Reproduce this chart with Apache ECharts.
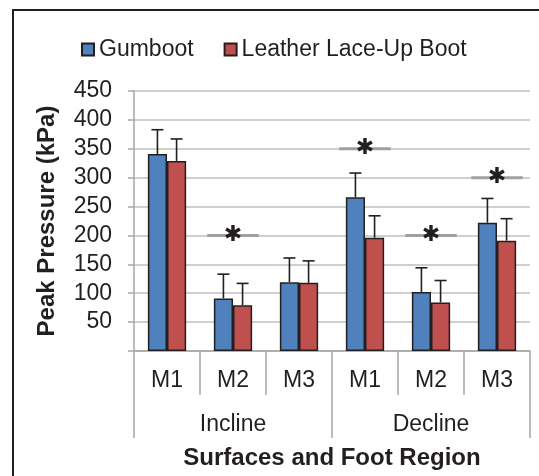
<!DOCTYPE html>
<html>
<head>
<meta charset="utf-8">
<script src="https://cdn.jsdelivr.net/npm/echarts@6/dist/echarts.min.js"></script>
<style>
  html, body { margin: 0; padding: 0; background: #fff; }
  #chart { width: 539px; height: 476px; }
</style>
</head>
<body>
<div id="chart"></div>
<script>
// foot regions per surface, and the surfaces
const regions = ['M1', 'M2', 'M3', 'M1', 'M2', 'M3']
const surfaces = ['Incline', 'Decline']

// peak pressure (kPa) and SD
const gumboot = [341, 91, 119, 266, 102, 222]
const gumbootErr = [42, 42, 42, 42, 42, 42]
const leather = [329, 79, 118, 196, 84, 191]
const leatherErr = [38, 38, 38, 38, 38, 38]

// significant differences: category index and level of the marker line
const sigIndex = [1, 3, 4, 5]
const sigLevel = [200, 350, 200, 300]

const yTicks = { min: 0, max: 450, interval: 50 }

const FONT = 'Liberation Sans'
const INK = '#231f20'
const AXIS_GRAY = '#a6a6a6'
const CAT_GAP = 0.42

const chart = echarts.init(document.getElementById('chart'))

// error bar (upper only) for series s (0 = left bar, 1 = right bar)
const errRender = (s) => (params, api) => {
  const cat = api.value(0)
  const val = api.value(1)
  const err = api.value(2)
  const band = api.size([1, 0])[0]
  const bw = band * (1 - CAT_GAP) / 2
  const cx = api.coord([cat, 0])[0] + (s - 0.5) * bw
  const yBase = api.coord([cat, val])[1]
  const yTop = api.coord([cat, val + err])[1]
  const st = { stroke: INK, lineWidth: 1.6 }
  return {
    type: 'group',
    children: [
      { type: 'line', shape: { x1: cx, y1: yBase, x2: cx, y2: yTop }, style: st },
      { type: 'line', shape: { x1: cx - 6, y1: yTop, x2: cx + 6, y2: yTop }, style: st }
    ]
  }
}

// significance line with asterisk
const sigRender = (params, api) => {
  const cat = api.value(0)
  const lvl = api.value(1)
  const band = api.size([1, 0])[0]
  const [cx, cy] = api.coord([cat, lvl])
  const half = band * 0.39
  return {
    type: 'group',
    children: [
      { type: 'line', shape: { x1: cx - half, y1: cy, x2: cx + half, y2: cy }, style: { stroke: '#a0a0a0', lineWidth: 3 } },
      { type: 'text', x: cx, y: cy, style: { text: '✱', fill: INK, fontSize: 22, fontFamily: 'DejaVu Sans', align: 'center', verticalAlign: 'middle' } }
    ]
  }
}

const option = {
  backgroundColor: '#fff',
  animation: false,
  graphic: [
    { type: 'rect', shape: { x: 13, y: 10, width: 700, height: 700 }, style: { fill: 'none', stroke: INK, lineWidth: 2 }, silent: true }
  ],
  legend: {
    data: ['Gumboot', 'Leather Lace-Up Boot'],
    left: 76,
    top: 33,
    itemWidth: 12,
    itemHeight: 12,
    itemGap: 30,
    icon: 'rect',
    textStyle: { fontFamily: FONT, fontSize: 23, color: INK }
  },
  grid: { left: 134, right: 9, top: 91, bottom: 125 },
  xAxis: [
    {
      type: 'category',
      data: regions,
      position: 'bottom',
      axisLine: { show: true, lineStyle: { color: AXIS_GRAY, width: 1.5 } },
      axisTick: { show: true, length: 44, alignWithLabel: false, lineStyle: { color: AXIS_GRAY, width: 1.5 } },
      axisLabel: { interval: 0, margin: 18, fontFamily: FONT, fontSize: 23, color: INK },
      splitLine: { show: false },
      name: 'Surfaces and Foot Region',
      nameLocation: 'middle',
      nameGap: 95,
      nameTextStyle: { fontFamily: FONT, fontSize: 24, fontWeight: 'bold', color: INK }
    },
    {
      type: 'category',
      data: surfaces,
      position: 'bottom',
      axisLine: { show: false },
      axisTick: { show: true, length: 87, alignWithLabel: false, lineStyle: { color: AXIS_GRAY, width: 1.5 } },
      axisLabel: { interval: 0, margin: 62, fontFamily: FONT, fontSize: 23, color: INK },
      splitLine: { show: false }
    }
  ],
  yAxis: {
    type: 'value',
    min: yTicks.min,
    max: yTicks.max,
    interval: yTicks.interval,
    axisLine: { show: true, lineStyle: { color: AXIS_GRAY, width: 1.5 } },
    axisTick: { show: true, length: 6, lineStyle: { color: AXIS_GRAY, width: 1.5 } },
    axisLabel: {
      margin: 22,
      fontFamily: FONT,
      fontSize: 23,
      color: INK,
      formatter: (v) => (v === 0 ? '' : String(v))
    },
    splitLine: { show: true, lineStyle: { color: '#bfbfbf', width: 1.5 } },
    name: 'Peak Pressure (kPa)',
    nameLocation: 'middle',
    nameGap: 75,
    nameTextStyle: { fontFamily: FONT, fontSize: 24, fontWeight: 'bold', color: INK }
  },
  series: [
    {
      name: 'Gumboot',
      type: 'bar',
      data: gumboot,
      barGap: '0%',
      barCategoryGap: (CAT_GAP * 100) + '%',
      itemStyle: { color: '#4f81bd', borderColor: INK, borderWidth: 1.5 },
      z: 2
    },
    {
      name: 'Leather Lace-Up Boot',
      type: 'bar',
      data: leather,
      barGap: '0%',
      barCategoryGap: (CAT_GAP * 100) + '%',
      itemStyle: { color: '#c0504d', borderColor: INK, borderWidth: 1.5 },
      z: 2
    },
    {
      type: 'custom',
      renderItem: errRender(0),
      data: gumboot.map((v, i) => [i, v, gumbootErr[i]]),
      encode: { x: 0, y: 1 },
      z: 3
    },
    {
      type: 'custom',
      renderItem: errRender(1),
      data: leather.map((v, i) => [i, v, leatherErr[i]]),
      encode: { x: 0, y: 1 },
      z: 3
    },
    {
      type: 'custom',
      renderItem: sigRender,
      data: sigIndex.map((c, i) => [c, sigLevel[i]]),
      encode: { x: 0, y: 1 },
      z: 4
    }
  ]
}

chart.setOption(option)
</script>
</body>
</html>
